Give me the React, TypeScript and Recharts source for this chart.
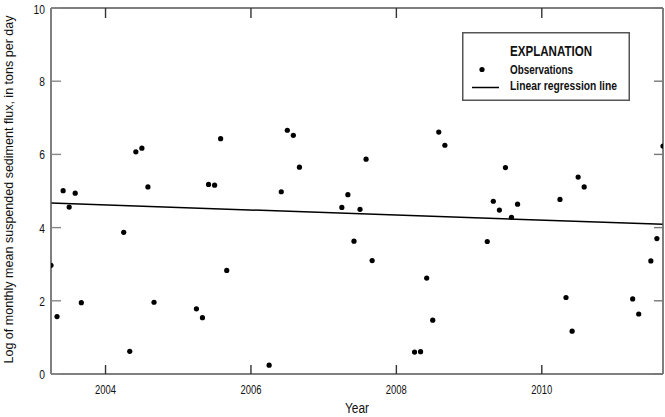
import React from 'react';
import { ComposedChart, Scatter, XAxis, YAxis, ReferenceLine, Legend } from 'recharts';

// monthly observations, decimal year at start of month
const obsYears = [
  2003.25, 2003.333, 2003.417, 2003.5, 2003.583, 2003.667,
  2004.25, 2004.333, 2004.417, 2004.5, 2004.583, 2004.667,
  2005.25, 2005.333, 2005.417, 2005.5, 2005.583, 2005.667,
  2006.25, 2006.417, 2006.5, 2006.583, 2006.667,
  2007.25, 2007.333, 2007.417, 2007.5, 2007.583, 2007.667,
  2008.25, 2008.333, 2008.417, 2008.5, 2008.583, 2008.667,
  2009.25, 2009.333, 2009.417, 2009.5, 2009.583, 2009.667,
  2010.25, 2010.333, 2010.417, 2010.5, 2010.583,
  2011.25, 2011.333, 2011.5, 2011.583, 2011.667,
];
const obsFlux = [
  2.97, 1.57, 5.01, 4.56, 4.94, 1.95,
  3.87, 0.62, 6.07, 6.17, 5.11, 1.96,
  1.78, 1.54, 5.18, 5.16, 6.43, 2.83,
  0.24, 4.98, 6.66, 6.52, 5.65,
  4.55, 4.9, 3.63, 4.5, 5.87, 3.1,
  0.6, 0.61, 2.62, 1.47, 6.61, 6.25,
  3.62, 4.72, 4.48, 5.64, 4.28, 4.64,
  4.77, 2.09, 1.17, 5.38, 5.11,
  2.05, 1.64, 3.09, 3.7, 6.23,
];

const regYears = [2003.25, 2011.667];
const regFlux = [4.67, 4.09];

const xTicks = [2004, 2006, 2008, 2010];
const yTicks = [0, 2, 4, 6, 8, 10];

// no condensed face installed, so text is squeezed horizontally
const FONT = "'Liberation Sans', Arial, sans-serif";
const FRAME = '#555';

const data = obsYears.map((x, i) => ({ x, y: obsFlux[i] }));

const BottomTick = (props: any) => {
  const { x, payload } = props;
  return (
    <text x={x} y={393.5} textAnchor="middle" fontFamily={FONT} fontSize={13.5} fill="#111"
      textLength={21} lengthAdjust="spacingAndGlyphs">
      {payload.value}
    </text>
  );
};

const LeftTick = (props: any) => {
  const { y, payload } = props;
  const s = String(payload.value);
  return (
    <text x={45} y={y + 5} textAnchor="end" fontFamily={FONT} fontSize={13.5} fill="#111"
      textLength={s.length * 5.7} lengthAdjust="spacingAndGlyphs">
      {s}
    </text>
  );
};

const Nothing = () => <g />;

const YLabel = (props: any) => {
  const vb = props.viewBox || { y: 8, height: 366 };
  const cx = 12.5;
  const cy = vb.y + vb.height / 2 - 1.5;
  return (
    <text x={cx} y={cy} transform={`rotate(-90 ${cx} ${cy})`} textAnchor="middle"
      fontFamily={FONT} fontSize={13} fill="#111" textLength={348} lengthAdjust="spacingAndGlyphs">
      Log of monthly mean suspended sediment flux, in tons per day
    </text>
  );
};

const XLabel = (props: any) => {
  const vb = props.viewBox || { x: 51, width: 613 };
  return (
    <text x={vb.x + vb.width / 2} y={413} textAnchor="middle" fontFamily={FONT} fontSize={14} fill="#111"
      textLength={24} lengthAdjust="spacingAndGlyphs">
      Year
    </text>
  );
};

const Dot = (props: any) => <circle cx={props.cx} cy={props.cy} r={2.6} fill="#000" />;

// squeezed bold legend text: natural length w at size fs, drawn at width target
const LegendText = ({ x, y, fs, w, target, children }: any) => (
  <text transform={`translate(${x} ${y}) scale(${target / w} 1)`} fontFamily={FONT} fontWeight="bold"
    fontSize={fs} fill="#111" textLength={w} lengthAdjust="spacingAndGlyphs">
    {children}
  </text>
);

const renderLegend = () => (
  <svg width={168} height={69} style={{ display: 'block', background: '#fff' }}>
    <rect x={0.75} y={0.75} width={166.5} height={67.5} fill="#fff" stroke={FRAME} strokeWidth={1.5} />
    <LegendText x={48} y={23.5} fs={14} w={106} target={82}>EXPLANATION</LegendText>
    <circle cx={20} cy={37.5} r={2.6} fill="#000" />
    <LegendText x={48} y={41.5} fs={12.5} w={77} target={63}>Observations</LegendText>
    <line x1={10} y1={55.5} x2={37} y2={55.5} stroke="#000" strokeWidth={1.5} />
    <LegendText x={48} y={58} fs={12.5} w={130} target={107}>Linear regression line</LegendText>
  </svg>
);

export default function App() {
  return (
    <div style={{ position: 'absolute', left: 0, top: 0, background: '#fff' }}>
      <ComposedChart width={665} height={417} data={data} margin={{ top: 7, right: 1, bottom: 0, left: 0 }}>
        <XAxis
          dataKey="x" type="number" domain={[2003.25, 2011.667]} ticks={xTicks} allowDataOverflow
          height={43} tickSize={-9} tickMargin={0} tickLine={{ stroke: '#333', strokeWidth: 1.4 }}
          tick={<BottomTick />} axisLine={{ stroke: FRAME, strokeWidth: 1.5 }} label={<XLabel />}
        />
        <XAxis
          xAxisId="top" orientation="top" dataKey="x" type="number" domain={[2003.25, 2011.667]} ticks={xTicks}
          allowDataOverflow height={1} tickSize={-10} tickMargin={0}
          tickLine={{ stroke: '#333', strokeWidth: 1.4 }} tick={<Nothing />}
          axisLine={{ stroke: FRAME, strokeWidth: 1.5 }}
        />
        <YAxis
          type="number" domain={[0, 10]} ticks={yTicks} width={51} tickSize={-10} tickMargin={0}
          tickLine={{ stroke: '#888', strokeWidth: 1.4 }} tick={<LeftTick />}
          axisLine={{ stroke: FRAME, strokeWidth: 1.5 }} label={<YLabel />}
        />
        <YAxis
          yAxisId="right" orientation="right" type="number" domain={[0, 10]} ticks={yTicks} width={1}
          tickSize={-9} tickMargin={0} tickLine={{ stroke: '#777', strokeWidth: 1.4 }} tick={<Nothing />}
          axisLine={{ stroke: FRAME, strokeWidth: 1.5 }}
        />
        <ReferenceLine
          segment={[{ x: regYears[0], y: regFlux[0] }, { x: regYears[1], y: regFlux[1] }]}
          stroke="#000" strokeWidth={1.5}
        />
        <Scatter dataKey="y" fill="#000" shape={<Dot />} isAnimationActive={false} />
        {/* invisible copy so the mirrored top/right frame axes get their ticks */}
        <Scatter xAxisId="top" yAxisId="right" dataKey="y" shape={<Nothing />} legendType="none"
          isAnimationActive={false} />
        <Legend
          layout="horizontal" verticalAlign="middle" align="center" content={renderLegend}
          wrapperStyle={{ left: 462, top: 32, width: 168, height: 69 }}
        />
      </ComposedChart>
    </div>
  );
}
